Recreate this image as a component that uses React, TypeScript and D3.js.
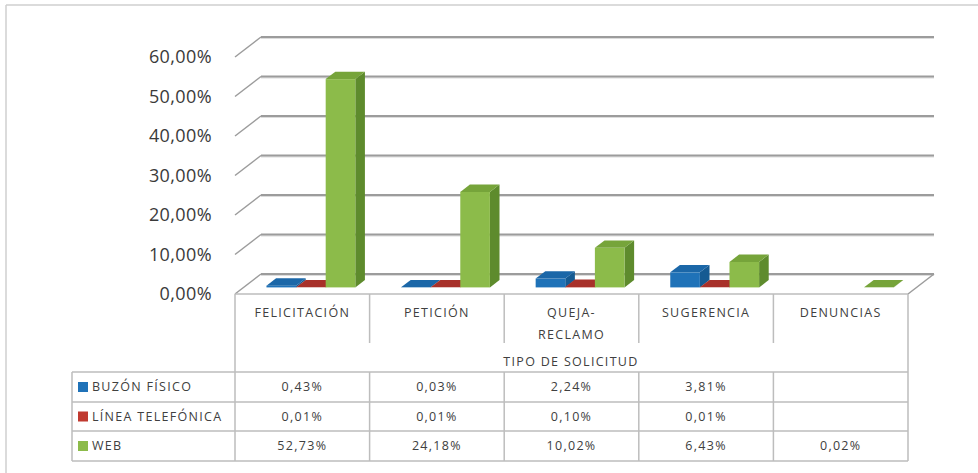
import React from "react";
import * as d3 from "d3";

const categories = ["FELICITACIÓN", "PETICIÓN", "QUEJA-RECLAMO", "SUGERENCIA", "DENUNCIAS"];
const categoryLines = [["FELICITACIÓN"], ["PETICIÓN"], ["QUEJA-", "RECLAMO"], ["SUGERENCIA"], ["DENUNCIAS"]];
const seriesNames = ["BUZÓN FÍSICO", "LÍNEA TELEFÓNICA", "WEB"];
const buzonFisico: (number | null)[] = [0.43, 0.03, 2.24, 3.81, null];
const lineaTelefonica: (number | null)[] = [0.01, 0.01, 0.1, 0.01, null];
const web: (number | null)[] = [52.73, 24.18, 10.02, 6.43, 0.02];
const yTicks = [0, 10, 20, 30, 40, 50, 60];
const axisTitle = "TIPO DE SOLICITUD";

const seriesValues = [buzonFisico, lineaTelefonica, web];
const palette = [
  { front: "#1f72b8", top: "#1b67a8", side: "#155a92" },
  { front: "#c0392f", top: "#a8312a", side: "#8c2822" },
  { front: "#8cbb4a", top: "#76a43a", side: "#5e8b2d" },
];

const locale = d3.formatLocale({ decimal: ",", thousands: ".", grouping: [3], currency: ["", "€"] });
const fmt = locale.format(".2f");

const W = 978;
const H = 473;
const plotLeft = 235;
const plotRight = 908;
const DX = 26;
const DY = 20;
const Z0 = 0.33;
const Z1 = 0.7;
const FONT = "'Open Sans', 'DejaVu Sans', sans-serif";
const TXT = "#404040";
const GRID = "#9c9c9c";
const TLINE = "#bdbdbd";
const TFS = 12.5;
const TLS = 1.3;

export default function App() {
  const y = d3.scaleLinear().domain([0, 60]).range([294, 57]);
  const x0 = d3.scaleBand<string>().domain(categories).range([plotLeft, plotRight]);
  const bw = x0.bandwidth();
  const x1 = d3.scaleBand<string>().domain(seriesNames).range([bw * 0.17, bw * 0.83]);
  const w = x1.bandwidth();

  const rowYs = [372, 402, 431, 461];
  const legendLeft = 72;

  const bars: JSX.Element[] = [];
  categories.forEach((c, ci) => {
    seriesNames.forEach((s, si) => {
      const v = seriesValues[si][ci];
      if (v === null || v === undefined) return;
      const col = palette[si];
      const xa = (x0(c) as number) + (x1(s) as number) + Z0 * DX;
      const xb = xa + w;
      const yt = y(v) - Z0 * DY;
      const yb = y(0) - Z0 * DY;
      const ddx = (Z1 - Z0) * DX;
      const ddy = (Z1 - Z0) * DY;
      bars.push(
        <g key={`${ci}-${si}`}>
          <polygon
            points={`${xb},${yt} ${xb + ddx},${yt - ddy} ${xb + ddx},${yb - ddy} ${xb},${yb}`}
            fill={col.side}
          />
          <rect x={xa} y={yt} width={w} height={Math.max(0, yb - yt)} fill={col.front} />
          <polygon
            points={`${xa},${yt} ${xb},${yt} ${xb + ddx},${yt - ddy} ${xa + ddx},${yt - ddy}`}
            fill={col.top}
          />
        </g>
      );
    });
  });

  const tProps = { fontFamily: FONT, fontSize: TFS, fill: TXT, letterSpacing: TLS };

  return (
    <svg width={W} height={H} style={{ position: "absolute", left: 0, top: 0, background: "#fff" }}>
      <rect x={0} y={0} width={W} height={H} fill="#fff" />
      {/* outer frame */}
      <line x1={6} y1={5} x2={W} y2={5} stroke="#cfcfcf" strokeWidth={1.5} />
      <line x1={6} y1={5} x2={6} y2={H} stroke="#cfcfcf" strokeWidth={1.5} />

      {/* grid: back wall + left wall */}
      {yTicks.map((t) => (
        <g key={t}>
          <line x1={plotLeft + DX} y1={y(t) - DY + 1.4} x2={plotRight + DX} y2={y(t) - DY + 1.4} stroke="#dcdcdc" strokeWidth={1.2} />
          <line x1={plotLeft + DX} y1={y(t) - DY} x2={plotRight + DX} y2={y(t) - DY} stroke={GRID} strokeWidth={1.8} />
          <line x1={plotLeft} y1={y(t)} x2={plotLeft + DX} y2={y(t) - DY} stroke={GRID} strokeWidth={1.5} />
          <text
            x={212}
            y={y(t)}
            dy="0.35em"
            textAnchor="end"
            fontFamily={FONT}
            fontSize={18}
            fill="#3a3a3a"
            letterSpacing={0.4}
          >
            {fmt(t) + "%"}
          </text>
        </g>
      ))}
      {/* floor right edge */}
      <line x1={plotRight} y1={y(0)} x2={plotRight + DX} y2={y(0) - DY} stroke={GRID} strokeWidth={1.5} />

      {bars}

      {/* data table */}
      <line x1={plotLeft} y1={y(0)} x2={plotRight} y2={y(0)} stroke={TLINE} strokeWidth={1.6} />
      <line x1={plotLeft} y1={y(0)} x2={plotLeft} y2={rowYs[3]} stroke={TLINE} strokeWidth={1.5} />
      <line x1={plotRight} y1={y(0)} x2={plotRight} y2={rowYs[3]} stroke={TLINE} strokeWidth={1.5} />
      <line x1={legendLeft} y1={rowYs[0]} x2={legendLeft} y2={rowYs[3]} stroke={TLINE} strokeWidth={1.5} />
      {rowYs.map((ry) => (
        <line key={ry} x1={legendLeft} y1={ry} x2={plotRight} y2={ry} stroke={TLINE} strokeWidth={1.5} />
      ))}
      {categories.slice(1).map((c) => (
        <g key={c}>
          <line x1={x0(c)} y1={y(0)} x2={x0(c)} y2={343} stroke={TLINE} strokeWidth={1.5} />
          <line x1={x0(c)} y1={rowYs[0]} x2={x0(c)} y2={rowYs[3]} stroke={TLINE} strokeWidth={1.5} />
        </g>
      ))}
      {categories.map((c, ci) => (
        <text key={c} x={(x0(c) as number) + bw / 2} y={313} textAnchor="middle" {...tProps}>
          {categoryLines[ci].map((ln, li) => (
            <tspan key={li} x={(x0(c) as number) + bw / 2} dy={li === 0 ? "0.35em" : 22}>
              {ln}
            </tspan>
          ))}
        </text>
      ))}
      <text x={571} y={362} dy="0.35em" textAnchor="middle" {...tProps}>
        {axisTitle}
      </text>

      {seriesNames.map((s, si) => {
        const cy = (rowYs[si] + rowYs[si + 1]) / 2;
        return (
          <g key={s}>
            <rect x={78} y={cy - 5} width={10} height={10} fill={palette[si].front} />
            <text x={92} y={cy} dy="0.35em" {...tProps}>
              {s}
            </text>
            {categories.map((c, ci) => {
              const v = seriesValues[si][ci];
              if (v === null || v === undefined) return null;
              return (
                <text key={c} x={(x0(c) as number) + bw / 2} y={cy} dy="0.35em" textAnchor="middle" {...tProps}>
                  {fmt(v) + "%"}
                </text>
              );
            })}
          </g>
        );
      })}
    </svg>
  );
}
